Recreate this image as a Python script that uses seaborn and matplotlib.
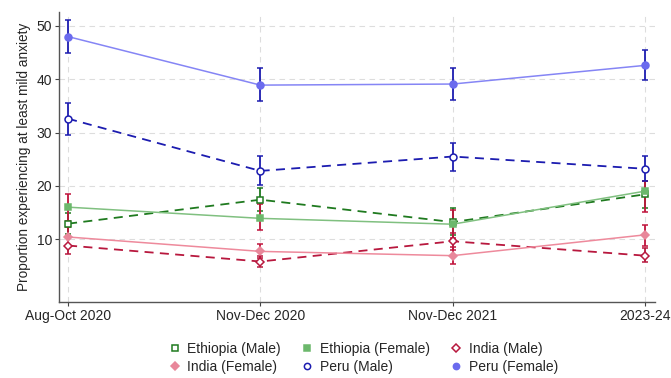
import numpy as np
import pandas as pd
import matplotlib
matplotlib.use("Agg")
import matplotlib.pyplot as plt
import seaborn as sns

# data
waves = ['Aug-Oct 2020', 'Nov-Dec 2020', 'Nov-Dec 2021', '2023-24']

eth_male = [12.9, 17.4, 13.2, 18.4]
eth_male_lo = [11.0, 15.3, 10.8, 15.9]
eth_male_hi = [14.9, 19.6, 15.9, 20.9]

eth_female = [16.0, 13.9, 12.8, 19.0]
eth_female_lo = [13.4, 11.7, 10.3, 15.1]
eth_female_hi = [18.5, 16.6, 15.5, 21.0]

ind_male = [8.8, 5.8, 9.6, 6.9]
ind_male_lo = [7.3, 4.8, 8.0, 5.7]
ind_male_hi = [10.4, 6.8, 11.1, 8.3]

ind_female = [10.4, 7.7, 6.9, 10.8]
ind_female_lo = [8.6, 6.4, 5.4, 8.7]
ind_female_hi = [12.3, 9.1, 8.5, 12.6]

peru_male = [32.6, 22.8, 25.5, 23.2]
peru_male_lo = [29.6, 20.1, 22.7, 20.9]
peru_male_hi = [35.5, 25.6, 28.1, 25.6]

peru_female = [48.0, 38.9, 39.1, 42.6]
peru_female_lo = [44.9, 35.9, 36.1, 39.8]
peru_female_hi = [51.1, 42.1, 42.1, 45.4]

sns.set_style("white")
plt.rcParams['font.family'] = ['Liberation Sans', 'DejaVu Sans']

fig = plt.figure(figsize=(6.71, 3.78), dpi=100)
ax = fig.add_axes([0.088, 0.201, 0.888, 0.767])

x = np.arange(len(waves))

# label, values, lo, hi, line colour, marker, face, dashed, errbar colour
series = [
    ('Ethiopia (Male)', eth_male, eth_male_lo, eth_male_hi, '#1f7a1f', 's', 'white', True, '#1f7a1f'),
    ('Ethiopia (Female)', eth_female, eth_female_lo, eth_female_hi, '#80c080', 's', '#6cb86c', False, '#c0143c'),
    ('India (Male)', ind_male, ind_male_lo, ind_male_hi, '#b8183e', 'D', 'white', True, '#b8183e'),
    ('India (Female)', ind_female, ind_female_lo, ind_female_hi, '#ee8a9c', 'D', '#e8879a', False, '#c0143c'),
    ('Peru (Male)', peru_male, peru_male_lo, peru_male_hi, '#1c1cb0', 'o', 'white', True, '#1c1cb0'),
    ('Peru (Female)', peru_female, peru_female_lo, peru_female_hi, '#8585f5', 'o', '#6b6bee', False, '#1c1cb0'),
]

handles = {}
for label, vals, lo, hi, col, mk, face, dashed, ecol in series:
    vals = np.array(vals)
    err = [vals - np.array(lo), np.array(hi) - vals]
    ax.errorbar(x, vals, yerr=err, fmt='none', ecolor=ecol, elinewidth=1.3,
                capsize=2.5, capthick=1.1, zorder=3)
    ms = 5 if mk != 'D' else 4.5
    sns.lineplot(x=x, y=vals, ax=ax, color=col, linewidth=1.3 if dashed else 1.1,
                 dashes=False, marker=mk, markersize=ms,
                 markerfacecolor=face, markeredgecolor=col if dashed else face,
                 markeredgewidth=1.1, zorder=4)
    if dashed:
        ax.lines[-1].set_linestyle((0, (5, 3.5)))
    handles[label] = plt.Line2D([], [], linestyle='none', marker=mk, markersize=ms - 0.5,
                                markerfacecolor=face,
                                markeredgecolor=col if dashed else face,
                                markeredgewidth=1.1)

ax.set_xlim(-0.047, 3.052)
ax.set_ylim(-1.8, 52.6)
ax.set_xticks(x)
ax.set_xticklabels(waves, fontsize=10)
ax.set_yticks([10, 20, 30, 40, 50])
ax.tick_params(axis='both', labelsize=10, length=3, width=0.8, color='#444444', direction='out', pad=2)
ax.tick_params(axis='x', bottom=True)
ax.tick_params(axis='y', left=True)
ax.set_ylabel('Proportion experiencing at least mild anxiety', fontsize=9.8)
ax.set_xlabel('')

ax.grid(True, color='#dddddd', linestyle=(0, (5, 4)), linewidth=0.8)
ax.set_axisbelow(True)
for s in ['top', 'right']:
    ax.spines[s].set_visible(False)
for s in ['left', 'bottom']:
    ax.spines[s].set_color('#555555')
    ax.spines[s].set_linewidth(1.0)

# legend is filled column-wise, reorder so rows read as in the original
order = ['Ethiopia (Male)', 'India (Female)', 'Ethiopia (Female)',
         'Peru (Male)', 'India (Male)', 'Peru (Female)']
fig.legend([handles[k] for k in order], order, loc='lower center',
           bbox_to_anchor=(0.54, -0.022), ncol=3, frameon=False, fontsize=10,
           handletextpad=0.3, columnspacing=1.3, labelspacing=0.25, handlelength=1.2)

fig.savefig('out.png', dpi=100)
